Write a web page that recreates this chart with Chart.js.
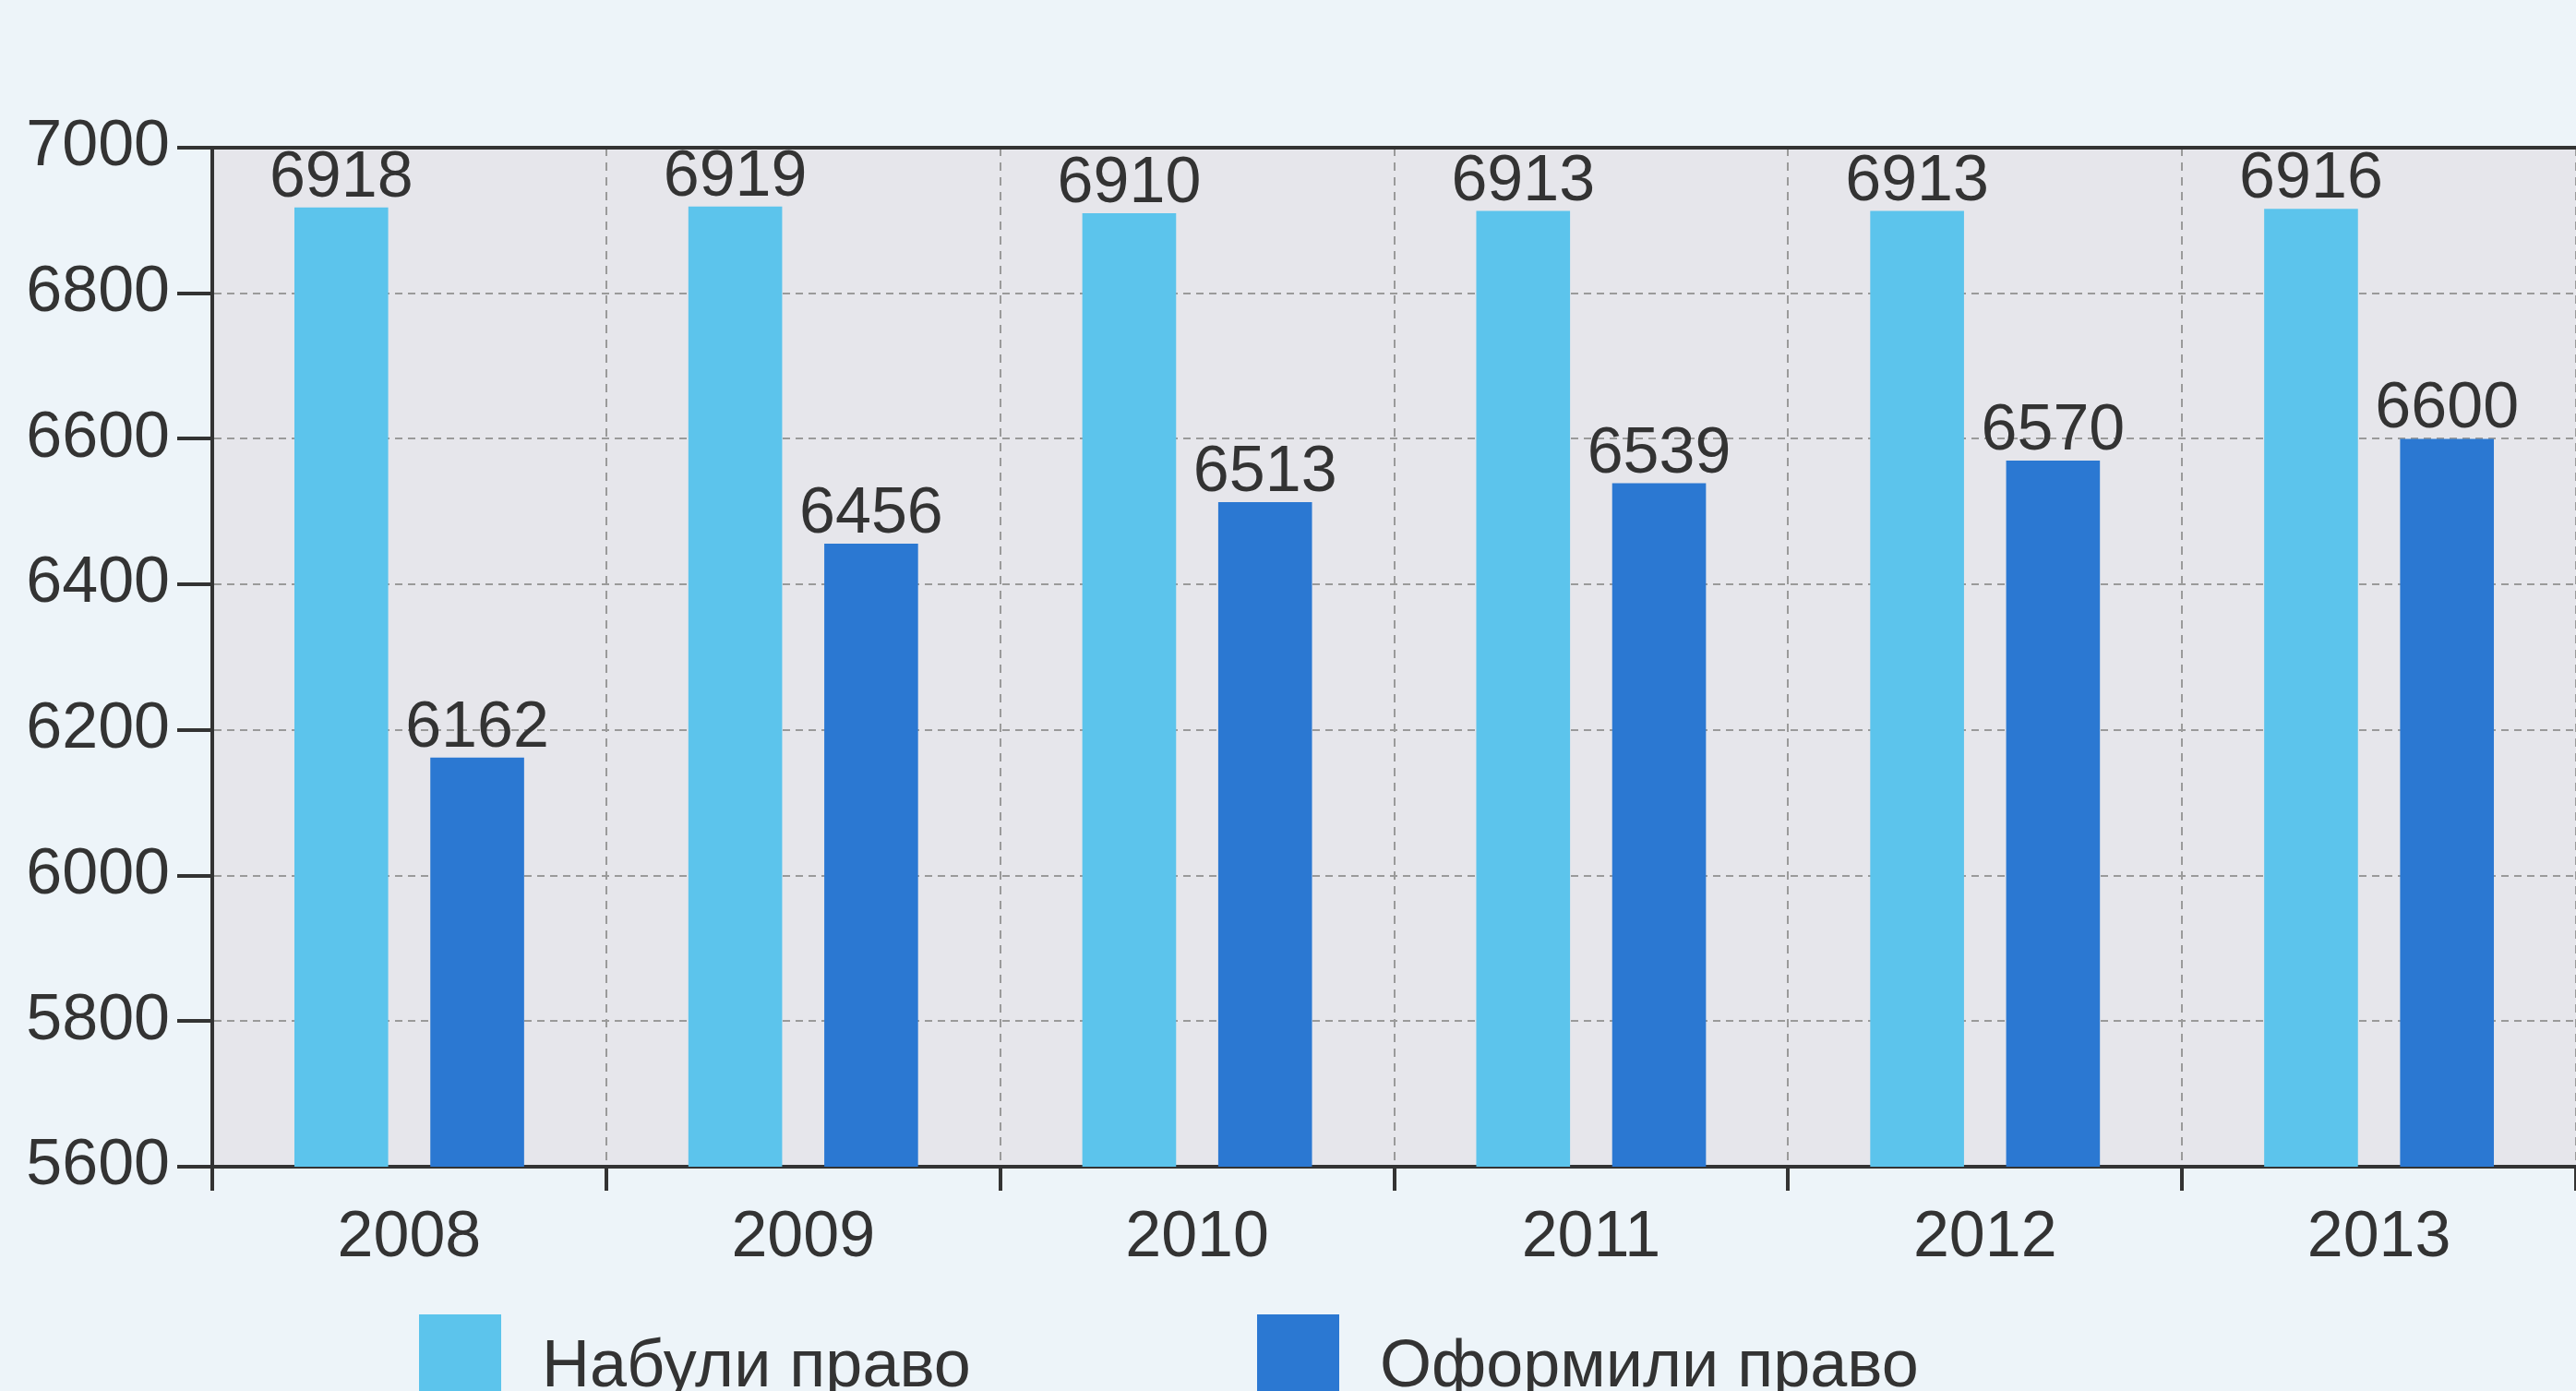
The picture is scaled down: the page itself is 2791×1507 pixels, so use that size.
<!DOCTYPE html>
<html>
<head>
<meta charset="utf-8">
<script src="https://cdn.jsdelivr.net/npm/chart.js@4.4.0/dist/chart.umd.min.js"></script>
<style>
  html, body { margin:0; padding:0; width:2791px; height:1507px; overflow:hidden; background:#edf4f9; }
  #wrap { position:relative; width:2791px; height:1507px; }
  #c { position:absolute; left:0; top:0; }
  .lg-box { position:absolute; width:89px; height:110px; }
  .lg-text { position:absolute; font-family:"Liberation Sans", Arial, sans-serif; font-size:72px; line-height:72px; color:#333; white-space:nowrap; }
</style>
</head>
<body>
<div id="wrap">
  <canvas id="c" width="2791" height="1507"></canvas>
  <div id="legend"></div>
</div>
<script>
// ---- data ----
const categories = ['2008', '2009', '2010', '2011', '2012', '2013'];
const seriesNames = ['Набули право', 'Оформили право'];
const acquired   = [6918, 6919, 6910, 6913, 6913, 6916];
const registered = [6162, 6456, 6513, 6539, 6570, 6600];
const yTicks = [5600, 5800, 6000, 6200, 6400, 6600, 6800, 7000];

// ---- styles ----
const NUMFONT = '"Liberation Sans", Arial, sans-serif';
const TEXT = '#333333';
const AXIS = '#333333';
const GRID = '#9a9a9a';
const colors = ['#5cc4ec', '#2b78d2'];
const legendPos = [ {box:454, text:587}, {box:1362, text:1495} ];

const plotBg = {
  id: 'plotBg',
  beforeDraw(chart) {
    const {ctx, chartArea: a} = chart;
    ctx.save();
    ctx.fillStyle = '#e6e6eb';
    ctx.fillRect(a.left, a.top, a.right - a.left, a.bottom - a.top);
    ctx.restore();
  }
};

const topBorder = {
  id: 'topBorder',
  afterDraw(chart) {
    const {ctx, chartArea: a} = chart;
    ctx.save();
    ctx.strokeStyle = AXIS;
    ctx.lineWidth = 4;
    ctx.beginPath();
    ctx.moveTo(a.left, a.top);
    ctx.lineTo(a.right, a.top);
    ctx.stroke();
    ctx.restore();
  }
};

const valueLabels = {
  id: 'valueLabels',
  afterDatasetsDraw(chart) {
    const {ctx} = chart;
    ctx.save();
    ctx.font = '70px ' + NUMFONT;
    ctx.fillStyle = TEXT;
    ctx.textAlign = 'center';
    ctx.textBaseline = 'alphabetic';
    chart.data.datasets.forEach((ds, di) => {
      const meta = chart.getDatasetMeta(di);
      meta.data.forEach((bar, i) => {
        ctx.fillText(String(ds.data[i]), bar.x, bar.y - 12);
      });
    });
    ctx.restore();
  }
};

const htmlLegend = {
  id: 'htmlLegend',
  afterUpdate(chart) {
    const host = document.getElementById('legend');
    host.innerHTML = '';
    chart.data.datasets.forEach((ds, i) => {
      const p = legendPos[i];
      const box = document.createElement('div');
      box.className = 'lg-box';
      box.style.left = p.box + 'px';
      box.style.top = '1424px';
      box.style.background = ds.backgroundColor;
      const t = document.createElement('div');
      t.className = 'lg-text';
      t.style.left = p.text + 'px';
      t.style.top = '1441px';
      t.textContent = ds.label;
      host.appendChild(box);
      host.appendChild(t);
    });
  }
};

new Chart(document.getElementById('c'), {
  type: 'bar',
  data: {
    labels: categories,
    datasets: [
      { label: seriesNames[0], data: acquired,   backgroundColor: colors[0], borderWidth: 0 },
      { label: seriesNames[1], data: registered, backgroundColor: colors[1], borderWidth: 0 }
    ]
  },
  options: {
    responsive: false,
    animation: false,
    devicePixelRatio: 1,
    layout: { padding: { top: 160, bottom: 123, left: 0, right: 0 } },
    datasets: { bar: { categoryPercentage: 0.69, barPercentage: 0.69 } },
    plugins: {
      legend: { display: false },
      tooltip: { enabled: false },
      title: { display: false }
    },
    scales: {
      x: {
        type: 'category',
        offset: true,
        grid: { offset: true, color: GRID, lineWidth: 2, tickColor: AXIS, tickWidth: 4, tickLength: 26, drawTicks: true },
        border: { display: true, color: AXIS, width: 4, dash: [9, 7] },
        ticks: { color: TEXT, font: { size: 70, family: NUMFONT }, padding: 10, maxRotation: 0, autoSkip: false },
        afterFit(s) { s.height = 120; }
      },
      y: {
        min: 5600,
        max: 7000,
        grid: { color: GRID, lineWidth: 2, tickColor: AXIS, tickWidth: 4, tickLength: 38 },
        border: { display: true, color: AXIS, width: 4, dash: [8, 6] },
        ticks: { color: TEXT, font: { size: 70, family: NUMFONT }, padding: 8, callback: v => String(v) },
        afterBuildTicks(s) { s.ticks = yTicks.map(v => ({ value: v })); },
        afterFit(s) { s.width = 230; }
      }
    }
  },
  plugins: [plotBg, valueLabels, topBorder, htmlLegend]
});
</script>
</body>
</html>
